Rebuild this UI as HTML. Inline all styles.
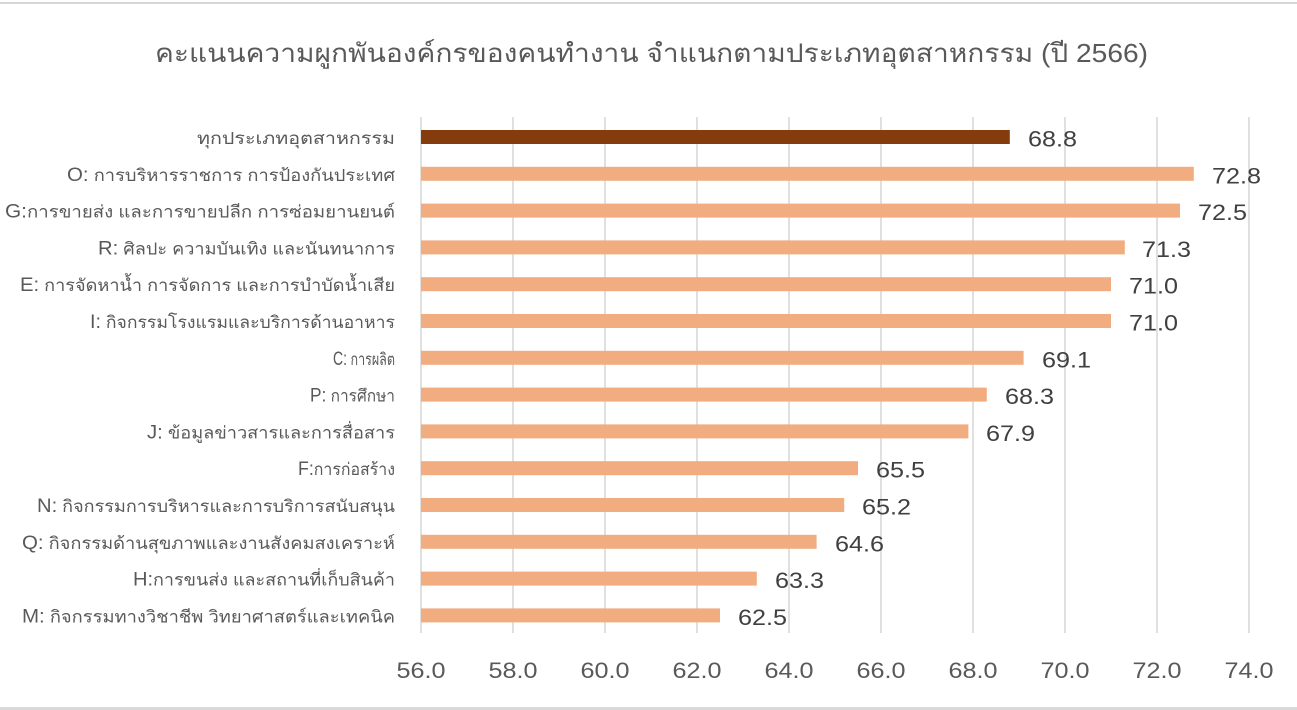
<!DOCTYPE html>
<html>
<head>
<meta charset="utf-8">
<style>
  html, body { margin:0; padding:0; background:#ffffff; }
  body { width:1297px; height:710px; overflow:hidden; }
  svg { display:block; }
  text { font-family: "Liberation Sans", "DejaVu Sans", sans-serif; }
</style>
</head>
<body>
<svg width="1297" height="710" viewBox="0 0 1297 710" xmlns="http://www.w3.org/2000/svg">
  <rect x="0" y="0" width="1297" height="710" fill="#ffffff"/>
  <rect x="0" y="2" width="1297" height="2" fill="#d6d6d6"/>
  <rect x="0" y="707" width="1297" height="3" fill="#d9d9d9"/>

  <!-- Title -->
  <text x="155" y="62" font-size="26" fill="#595959" textLength="993" lengthAdjust="spacingAndGlyphs">คะแนนความผูกพันองค์กรของคนทำงาน  จำแนกตามประเภทอุตสาหกรรม (ปี 2566)</text>

  <!-- Gridlines -->
  <g stroke="#d9d9d9" stroke-width="1.6">
    <line x1="421" y1="117" x2="421" y2="633"/>
    <line x1="513" y1="117" x2="513" y2="633"/>
    <line x1="605" y1="117" x2="605" y2="633"/>
    <line x1="697" y1="117" x2="697" y2="633"/>
    <line x1="789" y1="117" x2="789" y2="633"/>
    <line x1="881" y1="117" x2="881" y2="633"/>
    <line x1="973" y1="117" x2="973" y2="633"/>
    <line x1="1065" y1="117" x2="1065" y2="633"/>
    <line x1="1157" y1="117" x2="1157" y2="633"/>
    <line x1="1249" y1="117" x2="1249" y2="633"/>
  </g>

  <!-- Bars -->
  <rect x="421" y="130" width="588.8" height="14" fill="#843c0c"/>
  <g fill="#f1ac7f">
    <rect x="421" y="166.8" width="772.8" height="14"/>
    <rect x="421" y="203.6" width="759" height="14"/>
    <rect x="421" y="240.4" width="703.8" height="14"/>
    <rect x="421" y="277.2" width="690" height="14"/>
    <rect x="421" y="314" width="690" height="14"/>
    <rect x="421" y="350.8" width="602.6" height="14"/>
    <rect x="421" y="387.6" width="565.8" height="14"/>
    <rect x="421" y="424.4" width="547.4" height="14"/>
    <rect x="421" y="461.2" width="437" height="14"/>
    <rect x="421" y="498" width="423.2" height="14"/>
    <rect x="421" y="534.8" width="395.6" height="14"/>
    <rect x="421" y="571.6" width="335.8" height="14"/>
    <rect x="421" y="608.4" width="299" height="14"/>
  </g>

  <!-- Value labels -->
  <g font-size="22" fill="#404040">
    <text x="1028" y="146.5" textLength="49" lengthAdjust="spacingAndGlyphs">68.8</text>
    <text x="1212" y="183.3" textLength="49" lengthAdjust="spacingAndGlyphs">72.8</text>
    <text x="1198" y="220.1" textLength="49" lengthAdjust="spacingAndGlyphs">72.5</text>
    <text x="1142" y="256.9" textLength="49" lengthAdjust="spacingAndGlyphs">71.3</text>
    <text x="1129" y="293.7" textLength="49" lengthAdjust="spacingAndGlyphs">71.0</text>
    <text x="1129" y="330.5" textLength="49" lengthAdjust="spacingAndGlyphs">71.0</text>
    <text x="1042" y="367.3" textLength="49" lengthAdjust="spacingAndGlyphs">69.1</text>
    <text x="1005" y="404.1" textLength="49" lengthAdjust="spacingAndGlyphs">68.3</text>
    <text x="986" y="440.9" textLength="49" lengthAdjust="spacingAndGlyphs">67.9</text>
    <text x="876" y="477.7" textLength="49" lengthAdjust="spacingAndGlyphs">65.5</text>
    <text x="862" y="514.5" textLength="49" lengthAdjust="spacingAndGlyphs">65.2</text>
    <text x="835" y="551.3" textLength="49" lengthAdjust="spacingAndGlyphs">64.6</text>
    <text x="775" y="588.1" textLength="49" lengthAdjust="spacingAndGlyphs">63.3</text>
    <text x="738" y="624.9" textLength="49" lengthAdjust="spacingAndGlyphs">62.5</text>
  </g>

  <!-- Category labels -->
  <g font-size="17" fill="#595959">
    <text x="197" y="144" textLength="198" lengthAdjust="spacingAndGlyphs">ทุกประเภทอุตสาหกรรม</text>
    <text x="67" y="180.8" textLength="328" lengthAdjust="spacingAndGlyphs"><tspan font-size="19">O:</tspan> การบริหารราชการ การป้องกันประเทศ</text>
    <text x="5" y="217.6" textLength="390" lengthAdjust="spacingAndGlyphs"><tspan font-size="19">G:</tspan>การขายส่ง และการขายปลีก การซ่อมยานยนต์</text>
    <text x="98" y="254.4" textLength="297" lengthAdjust="spacingAndGlyphs"><tspan font-size="19">R:</tspan> ศิลปะ ความบันเทิง และนันทนาการ</text>
    <text x="20" y="291.2" textLength="375" lengthAdjust="spacingAndGlyphs"><tspan font-size="19">E:</tspan> การจัดหาน้ำ การจัดการ และการบำบัดน้ำเสีย</text>
    <text x="90" y="328" textLength="305" lengthAdjust="spacingAndGlyphs"><tspan font-size="19">I:</tspan> กิจกรรมโรงแรมและบริการด้านอาหาร</text>
    <text x="333" y="364.8" textLength="62" lengthAdjust="spacingAndGlyphs"><tspan font-size="19">C:</tspan> การผลิต</text>
    <text x="310" y="401.6" textLength="85" lengthAdjust="spacingAndGlyphs"><tspan font-size="19">P:</tspan> การศึกษา</text>
    <text x="147" y="438.4" textLength="248" lengthAdjust="spacingAndGlyphs"><tspan font-size="19">J:</tspan> ข้อมูลข่าวสารและการสื่อสาร</text>
    <text x="298" y="475.2" textLength="97" lengthAdjust="spacingAndGlyphs"><tspan font-size="19">F:</tspan>การก่อสร้าง</text>
    <text x="37" y="512" textLength="358" lengthAdjust="spacingAndGlyphs"><tspan font-size="19">N:</tspan> กิจกรรมการบริหารและการบริการสนับสนุน</text>
    <text x="22" y="548.8" textLength="373" lengthAdjust="spacingAndGlyphs"><tspan font-size="19">Q:</tspan> กิจกรรมด้านสุขภาพและงานสังคมสงเคราะห์</text>
    <text x="133" y="585.6" textLength="262" lengthAdjust="spacingAndGlyphs"><tspan font-size="19">H:</tspan>การขนส่ง และสถานที่เก็บสินค้า</text>
    <text x="22" y="622.4" textLength="373" lengthAdjust="spacingAndGlyphs"><tspan font-size="19">M:</tspan> กิจกรรมทางวิชาชีพ วิทยาศาสตร์และเทคนิค</text>
  </g>

  <!-- Axis tick labels -->
  <g font-size="22" fill="#595959" text-anchor="middle">
    <text x="421" y="678" textLength="49" lengthAdjust="spacingAndGlyphs">56.0</text>
    <text x="513" y="678" textLength="49" lengthAdjust="spacingAndGlyphs">58.0</text>
    <text x="605" y="678" textLength="49" lengthAdjust="spacingAndGlyphs">60.0</text>
    <text x="697" y="678" textLength="49" lengthAdjust="spacingAndGlyphs">62.0</text>
    <text x="789" y="678" textLength="49" lengthAdjust="spacingAndGlyphs">64.0</text>
    <text x="881" y="678" textLength="49" lengthAdjust="spacingAndGlyphs">66.0</text>
    <text x="973" y="678" textLength="49" lengthAdjust="spacingAndGlyphs">68.0</text>
    <text x="1065" y="678" textLength="49" lengthAdjust="spacingAndGlyphs">70.0</text>
    <text x="1157" y="678" textLength="49" lengthAdjust="spacingAndGlyphs">72.0</text>
    <text x="1249" y="678" textLength="49" lengthAdjust="spacingAndGlyphs">74.0</text>
  </g>
</svg>
</body>
</html>
